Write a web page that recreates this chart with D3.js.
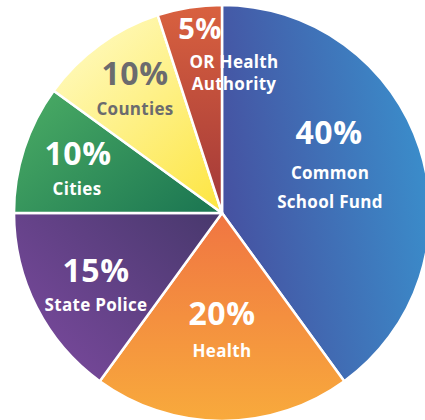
<!DOCTYPE html>
<html>
<head>
<meta charset="utf-8">
<script src="https://cdn.jsdelivr.net/npm/d3@7"></script>
<style>
  body { margin: 0; background: #fff; }
  svg text { font-family: "Open Sans", "Noto Sans", sans-serif; font-weight: 700; }
</style>
</head>
<body>
<div id="chart"></div>
<script>
// data
const labels = ["Common School Fund", "Health", "State Police", "Cities", "Counties", "OR Health Authority"]
const shares = [40, 20, 15, 10, 10, 5]
const nameLines = [["Common", "School Fund"], ["Health"], ["State Police"], ["Cities"], ["Counties"], ["OR Health", "Authority"]]

// gradient stops per slice [from, to] and direction
const grads = [
  {c: ["#4650a0", "#3a8fcc"], x1: 0, y1: 0.6, x2: 1, y2: 0.35},
  {c: ["#f07542", "#f8aa3c"], x1: 0, y1: 0, x2: 0, y2: 1},
  {c: ["#7c4a9f", "#4a396f"], x1: 0, y1: 0.9, x2: 1, y2: 0.1},
  {c: ["#4aab64", "#1e7953"], x1: 0, y1: 0.1, x2: 1, y2: 0.8},
  {c: ["#fffbc6", "#fde646"], x1: 0.1, y1: 0, x2: 0.9, y2: 1},
  {c: ["#d9613f", "#a23838"], x1: 0, y1: 0, x2: 0, y2: 1}
]
const textColor = ["#fff", "#fff", "#fff", "#fff", "#6b6b6e", "#fff"]

const width = 425, height = 420
const cx = 222, cy = 213, radius = 208

const svg = d3.select("#chart").append("svg")
  .attr("width", width)
  .attr("height", height)

const defs = svg.append("defs")
grads.forEach((g, i) => {
  const lg = defs.append("linearGradient")
    .attr("id", "g" + i)
    .attr("x1", g.x1).attr("y1", g.y1)
    .attr("x2", g.x2).attr("y2", g.y2)
  lg.append("stop").attr("offset", "0%").attr("stop-color", g.c[0])
  lg.append("stop").attr("offset", "100%").attr("stop-color", g.c[1])
})

const pie = d3.pie().sort(null).value(d => d)
const arc = d3.arc().innerRadius(0).outerRadius(radius)
const arcs = pie(shares)

const g = svg.append("g").attr("transform", `translate(${cx},${cy})`)

g.selectAll("path")
  .data(arcs)
  .enter()
  .append("path")
  .attr("d", arc)
  .attr("fill", (d, i) => `url(#g${i})`)
  .attr("stroke", "#fff")
  .attr("stroke-width", 2.5)
  .attr("stroke-linejoin", "round")

// label placement (relative to pie centre): pct baseline, name baseline(s)
const labelPos = [
  {px: 107, py: -69, nx: 108, ny: [-34, -5]},
  {px: 0, py: 112, nx: 0, ny: [144]},
  {px: -126, py: 69, nx: -126, ny: [98]},
  {px: -144, py: -48, nx: -145, ny: [-18]},
  {px: -87, py: -128, nx: -87, ny: [-98]},
  {px: -22, py: -174, nx: 12, ny: [-145, -123]}
]

const lab = g.selectAll("g.lab")
  .data(arcs)
  .enter()
  .append("g")
  .attr("class", "lab")
  .attr("fill", (d, i) => textColor[i])
  .attr("text-anchor", "middle")

lab.append("text")
  .attr("x", (d, i) => labelPos[i].px)
  .attr("y", (d, i) => labelPos[i].py)
  .attr("font-size", (d, i) => i == 5 ? 29 : 32)
  .attr("letter-spacing", 0.5)
  .text(d => d.data + "%")

lab.each(function(d, i) {
  nameLines[i].forEach((t, j) => {
    d3.select(this).append("text")
      .attr("x", labelPos[i].nx)
      .attr("y", labelPos[i].ny[j])
      .attr("font-size", 17)
      .attr("letter-spacing", 0.3)
      .text(t)
  })
})
</script>
</body>
</html>
